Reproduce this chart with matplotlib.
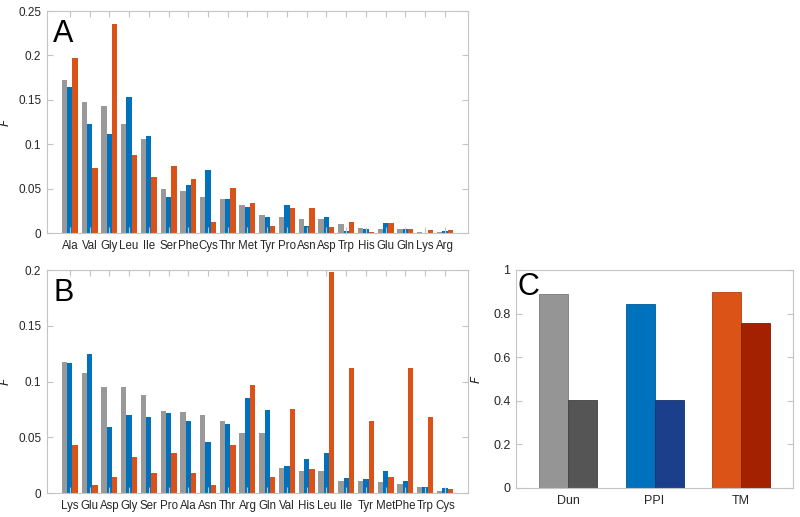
import numpy as np
import matplotlib.pyplot as plt

plt.rcParams['font.family'] = ['Liberation Sans', 'DejaVu Sans']

# Panel A
labels_a = ['Ala', 'Val', 'Gly', 'Leu', 'Ile', 'Ser', 'Phe', 'Cys', 'Thr', 'Met',
            'Tyr', 'Pro', 'Asn', 'Asp', 'Trp', 'His', 'Glu', 'Gln', 'Lys', 'Arg']
gray_a = [0.172, 0.147, 0.143, 0.123, 0.106, 0.050, 0.047, 0.040, 0.038, 0.031,
          0.020, 0.018, 0.016, 0.0154, 0.0101, 0.006, 0.0045, 0.0041, 0.001, 0.0008]
blue_a = [0.164, 0.123, 0.111, 0.153, 0.109, 0.041, 0.054, 0.071, 0.0385, 0.0295,
          0.0176, 0.0315, 0.0083, 0.0176, 0.0019, 0.0045, 0.011, 0.0045, 0.0, 0.0019]
orange_a = [0.197, 0.0733, 0.235, 0.0873, 0.0627, 0.0755, 0.061, 0.012, 0.051, 0.0335,
            0.0083, 0.0278, 0.0278, 0.0064, 0.012, 0.0015, 0.0116, 0.0049, 0.0034, 0.0034]

# Panel B
labels_b = ['Lys', 'Glu', 'Asp', 'Gly', 'Ser', 'Pro', 'Ala', 'Asn', 'Thr', 'Arg',
            'Gln', 'Val', 'His', 'Leu', 'Ile', 'Tyr', 'Met', 'Phe', 'Trp', 'Cys']
gray_b = [0.1177, 0.108, 0.0955, 0.0955, 0.0877, 0.074, 0.0724, 0.0697, 0.0646, 0.054,
          0.054, 0.0222, 0.020, 0.020, 0.0105, 0.0105, 0.0099, 0.0081, 0.0051, 0.0018]
blue_b = [0.1165, 0.1246, 0.059, 0.070, 0.0685, 0.0715, 0.0646, 0.046, 0.0616, 0.0856,
          0.0745, 0.0246, 0.0306, 0.036, 0.0138, 0.0123, 0.020, 0.0108, 0.0051, 0.0042]
orange_b = [0.043, 0.0069, 0.014, 0.032, 0.0177, 0.0357, 0.0177, 0.0069, 0.043, 0.0973,
            0.014, 0.0757, 0.0213, 0.198, 0.1117, 0.0646, 0.014, 0.1117, 0.0685, 0.0033]

# Panel C
labels_c = ['Dun', 'PPI', 'TM']
first_c = [0.89, 0.845, 0.90]
second_c = [0.405, 0.405, 0.755]

grey, blue, orange = '#999999', '#0072BD', '#D95319'
c_first = ['#959595', '#0072BD', '#DC5318']
c_second = ['#555555', '#1B3F8B', '#A32000']
frame = '#c4c4c4'

fig = plt.figure(figsize=(8, 5.17), dpi=100)
ax_a = fig.add_axes([0.0584, 0.5493, 0.5266, 0.4294])
ax_b = fig.add_axes([0.0584, 0.0464, 0.5266, 0.4313])
ax_c = fig.add_axes([0.645, 0.0561, 0.3463, 0.4217])


def style(ax, ysize, xsize, ylab_x):
    for s in ax.spines.values():
        s.set_color(frame)
        s.set_linewidth(0.8)
    ax.tick_params(direction='in', colors=frame, length=4, width=0.8,
                   top=True, right=True, labelcolor='#262626')
    ax.tick_params(axis='y', labelsize=ysize, pad=4)
    ax.tick_params(axis='x', labelsize=xsize, pad=5)
    ax.set_ylabel('$F$', fontsize=9, color='#262626')
    ax.yaxis.set_label_coords(ylab_x, 0.5)


def grouped(ax, labels, g, b, o, ymax, step, letter):
    x = np.arange(len(labels))
    w = 0.27
    ax.bar(x - w, g, w, color=grey, linewidth=0)
    ax.bar(x, b, w, color=blue, linewidth=0)
    ax.bar(x + w, o, w, color=orange, linewidth=0)
    ax.set_xticks(x)
    ax.set_xticklabels(labels)
    ax.set_xlim(-1.17, len(labels) - 1 + 1.17)
    ax.set_ylim(0, ymax)
    yt = np.arange(0, ymax + 1e-9, step)
    ax.set_yticks(yt)
    ax.set_yticklabels(['0'] + ['%g' % v for v in yt[1:]])
    style(ax, 8.5, 8.3, -0.083)
    ax.text(0.015, 0.965, letter, transform=ax.transAxes, fontsize=22,
            va='top', ha='left', color='black')


grouped(ax_a, labels_a, gray_a, blue_a, orange_a, 0.25, 0.05, 'A')
grouped(ax_b, labels_b, gray_b, blue_b, orange_b, 0.2, 0.05, 'B')

xc = np.arange(len(labels_c))
wc = 0.335
ax_c.bar(xc - wc / 2, first_c, wc, color=c_first,
         edgecolor=['#7a7a7a', '#005a96', '#b04010'], linewidth=0.6)
ax_c.bar(xc + wc / 2, second_c, wc, color=c_second,
         edgecolor=['#404040', '#15306a', '#801800'], linewidth=0.6)
ax_c.set_xticks(xc)
ax_c.set_xticklabels(labels_c)
ax_c.set_xlim(-0.6, 2.6)
ax_c.set_ylim(0, 1)
ax_c.set_yticks([0, 0.2, 0.4, 0.6, 0.8, 1])
ax_c.set_yticklabels(['0', '0.2', '0.4', '0.6', '0.8', '1'])
style(ax_c, 9, 9, -0.119)
ax_c.tick_params(axis='x', top=False, bottom=False)
ax_c.text(0.005, 0.99, 'C', transform=ax_c.transAxes, fontsize=22,
          va='top', ha='left', color='black')

fig.savefig('out.png', dpi=100)
